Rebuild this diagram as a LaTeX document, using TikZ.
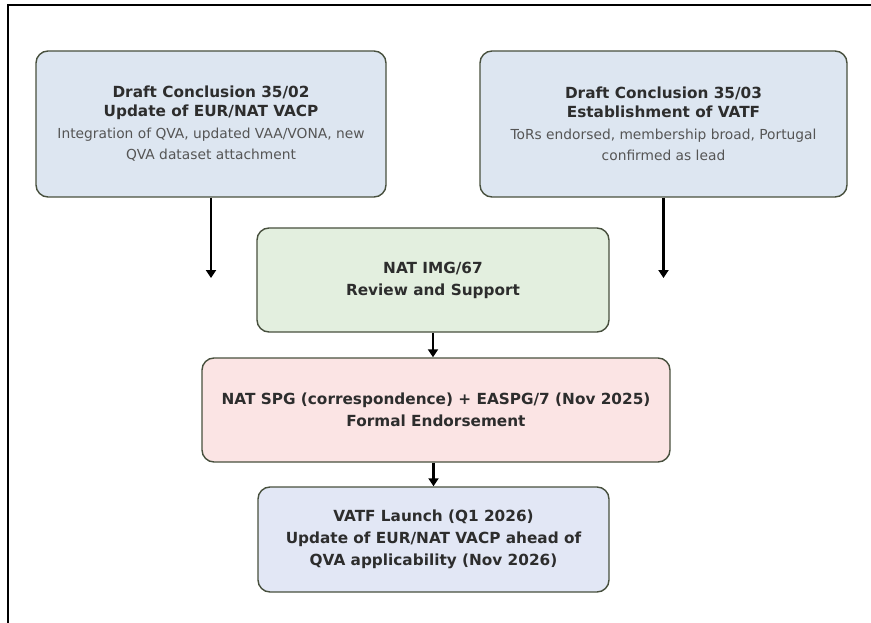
\documentclass[tikz,border=0pt]{standalone}
\usepackage{fontspec}
\setmainfont{DejaVu Sans}
\usetikzlibrary{arrows.meta}

\definecolor{boxline}{RGB}{72,80,62}
\definecolor{draftblue}{RGB}{221,230,241}
\definecolor{reviewgreen}{RGB}{227,239,223}
\definecolor{endorsepink}{RGB}{251,228,228}
\definecolor{launchblue}{RGB}{226,231,245}
\definecolor{titlegray}{RGB}{45,45,45}
\definecolor{notegray}{RGB}{85,85,85}

\newcommand{\boxtitle}[1]{{\bfseries\color{titlegray}#1}}
\newcommand{\boxnote}[1]{{\fontsize{13.8}{19}\selectfont\color{notegray}#1}}

\begin{document}
\begin{tikzpicture}[x=1pt,y=-1pt,
    box/.style={draw=boxline, line width=1.4pt, rounded corners=12pt,
        align=center, inner sep=0pt, font=\fontsize{15.3}{19}\selectfont},
    flow/.style={line width=2.8pt, -{Triangle[length=8pt,width=10pt]}}]
    \useasboundingbox (0,0) rectangle (871,623);

    % Frame (top and left edges only)
    \draw[line width=2pt] (8,623) -- (8,5) -- (871,5);

    % --- Draft conclusions ---
    \node[box, fill=draftblue, minimum width=350pt, minimum height=146pt]
        (dc02) at (211,124)
        {\boxtitle{Draft Conclusion 35/02}\\
         \boxtitle{Update of EUR/NAT VACP}\\[3pt]
         \boxnote{Integration of QVA, updated VAA/VONA, new}\\[2pt]
         \boxnote{QVA dataset attachment}};
    \node[box, fill=draftblue, minimum width=367pt, minimum height=146pt]
        (dc03) at (663.5,124)
        {\boxtitle{Draft Conclusion 35/03}\\
         \boxtitle{Establishment of VATF}\\[3pt]
         \boxnote{ToRs endorsed, membership broad, Portugal}\\[2pt]
         \boxnote{confirmed as lead}};

    % --- Review, endorsement, launch ---
    \node[box, fill=reviewgreen, minimum width=352pt, minimum height=104pt]
        (img) at (433,280)
        {\boxtitle{NAT IMG/67}\\[3pt]
         \boxtitle{Review and Support}};
    \node[box, fill=endorsepink, minimum width=468pt, minimum height=104pt]
        (spg) at (436,410)
        {\boxtitle{NAT SPG (correspondence) + EASPG/7 (Nov 2025)}\\[3pt]
         \boxtitle{Formal Endorsement}};
    \node[box, fill=launchblue, minimum width=351pt, minimum height=105pt]
        (vatf) at (433.5,539.5)
        {\boxtitle{VATF Launch (Q1 2026)}\\[3pt]
         \boxtitle{Update of EUR/NAT VACP ahead of}\\[3pt]
         \boxtitle{QVA applicability (Nov 2026)}};

    % Arrows
    \coordinate (dc02end) at (dc02.south |- 0,278);
    \coordinate (dc03end) at (dc03.south |- 0,278);
    \draw[flow] (dc02.south) -- (dc02end);
    \draw[flow] (dc03.south) -- (dc03end);
    \draw[flow] (img.south) -- (img.south |- spg.north);
    \draw[flow] (vatf.north |- spg.south) -- (vatf.north);
\end{tikzpicture}
\end{document}
